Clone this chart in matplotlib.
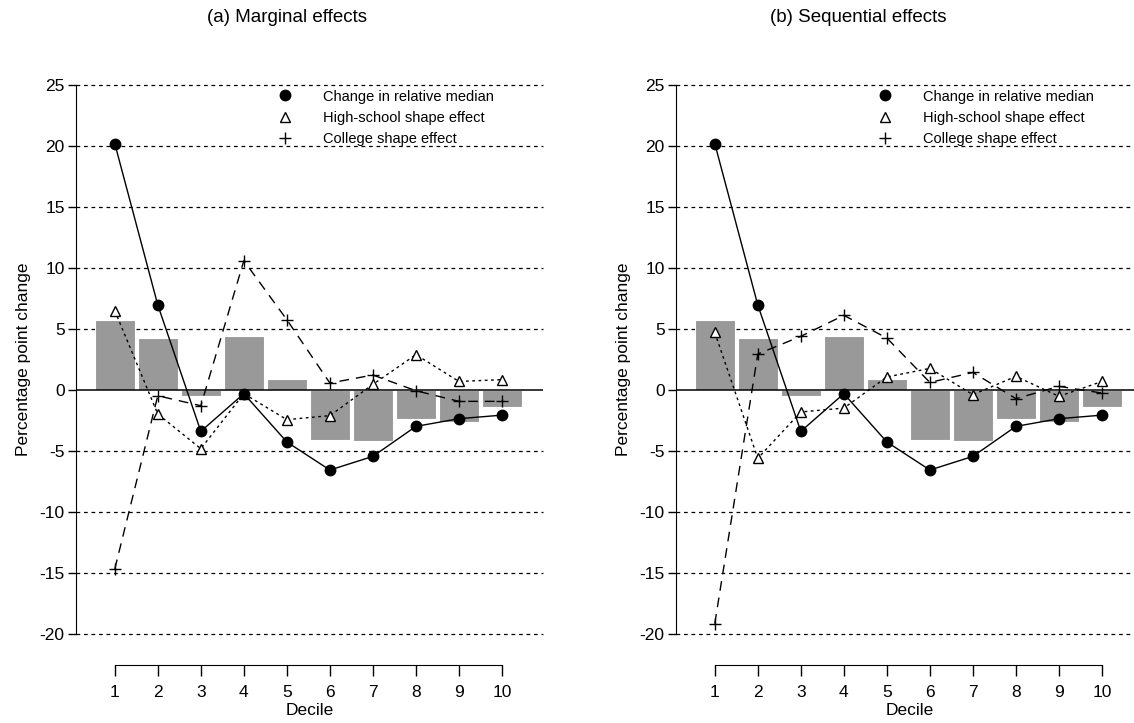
import numpy as np
import matplotlib.pyplot as plt
from matplotlib.lines import Line2D

plt.rcParams['font.family'] = ['Liberation Sans', 'DejaVu Sans']
plt.rcParams['axes.unicode_minus'] = False

deciles = np.arange(1, 11)

# total change (grey bars), same in both panels
bars = [5.76, 4.23, -0.52, 4.45, 0.9, -4.07, -4.16, -2.38, -2.6, -1.4]
# change in relative median, same in both panels
median = [20.2, 6.97, -3.39, -0.3, -4.26, -6.56, -5.44, -2.98, -2.35, -2.06]

# (a) marginal effects
hs_marg = [6.5, -1.97, -4.81, -0.3, -2.43, -2.1, 0.46, 2.9, 0.7, 0.85]
col_marg = [-14.67, -0.47, -1.29, 10.6, 5.76, 0.57, 1.23, -0.06, -0.93, -0.93]

# (b) sequential effects
hs_seq = [4.72, -5.6, -1.8, -1.48, 1.07, 1.77, -0.38, 1.12, -0.52, 0.7]
col_seq = [-19.15, 2.95, 4.4, 6.12, 4.26, 0.62, 1.44, -0.71, 0.3, -0.25]

yticks = [-20, -15, -10, -5, 0, 5, 10, 15, 20, 25]

fig = plt.figure(figsize=(11.34, 7.23), dpi=100)
ax1 = fig.add_axes([0.0668, 0.1231, 0.4119, 0.7593])
ax2 = fig.add_axes([0.5959, 0.1231, 0.4119, 0.7593])


def panel(ax, hs, col):
    for y in yticks:
        if y != 0:
            ax.axhline(y, color='black', lw=0.9, ls=(0, (3, 3)), zorder=0,
                       clip_on=False)
    ax.bar(deciles, bars, width=0.93, color='#999999', edgecolor='white',
           lw=0.8, zorder=1)
    ax.axhline(0, color='black', lw=1.1, zorder=2)
    ax.plot(deciles, median, color='black', lw=1, marker='o', ms=7.5,
            zorder=5)
    ax.plot(deciles, hs, color='black', lw=1, ls=(0, (2, 2.5)), marker='^',
            ms=7.5, mfc='white', mec='black', mew=1, zorder=4)
    ax.plot(deciles, col, color='black', lw=1, ls=(0, (7, 5)), marker='+',
            ms=9, mew=1, zorder=3)

    ax.set_xlim(0.093, 10.95)
    ax.set_ylim(-20, 25)
    ax.set_yticks(yticks)
    ax.set_xticks(deciles)
    ax.spines['top'].set_visible(False)
    ax.spines['right'].set_visible(False)
    ax.spines['left'].set_bounds(-20, 25)
    ax.spines['bottom'].set_position(('outward', 22))
    ax.spines['bottom'].set_bounds(1, 10)
    ax.tick_params(axis='both', direction='out', length=6, width=1,
                   labelsize=12.5, pad=2)
    ax.tick_params(axis='x', length=8, pad=7)
    ax.set_xlabel('Decile', fontsize=12.5, labelpad=2)
    ax.set_ylabel('Percentage point change', fontsize=12.5, labelpad=6)

    handles = [
        Line2D([], [], ls='none', marker='o', color='black', ms=7.5),
        Line2D([], [], ls='none', marker='^', mfc='white', mec='black', ms=7.5),
        Line2D([], [], ls='none', marker='+', color='black', ms=9, mew=1),
    ]
    labels = ['Change in relative median', 'High-school shape effect',
              'College shape effect']
    ax.legend(handles, labels, loc='upper left', bbox_to_anchor=(0.41, 1.005),
              frameon=False, fontsize=10.5, handlelength=1.5,
              handletextpad=1.8, labelspacing=0.5, borderpad=0)


panel(ax1, hs_marg, col_marg)
panel(ax2, hs_seq, col_seq)

fig.text(0.253, 0.976, '(a) Marginal effects', ha='center', va='center',
         fontsize=13.5)
fig.text(0.757, 0.976, '(b) Sequential effects', ha='center', va='center',
         fontsize=13.5)

fig.savefig('out.png', dpi=100)
